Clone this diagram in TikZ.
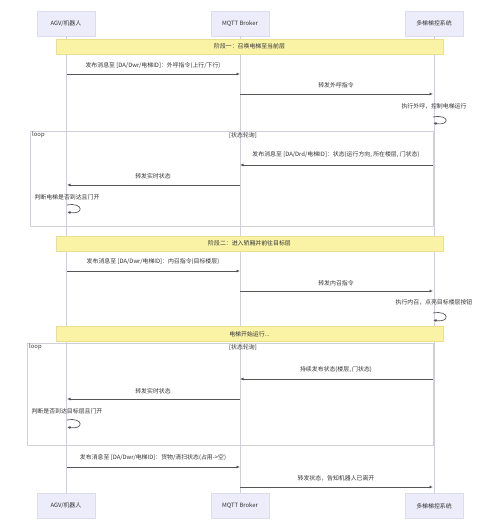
\documentclass[tikz,border=0pt]{standalone}
\usepackage{fontspec}
\setmainfont{Noto Sans CJK SC}
\usetikzlibrary{arrows.meta}
\definecolor{actorfill}{HTML}{ECECFA}
\definecolor{actorline}{HTML}{DCDCEE}
\definecolor{notefill}{HTML}{FAF3A6}
\definecolor{noteline}{HTML}{E8E090}
\definecolor{lifeline}{HTML}{D0D0D8}
\definecolor{msgline}{HTML}{555555}
\definecolor{txt}{HTML}{333333}
\begin{document}
\begin{tikzpicture}[x=1pt,y=-1pt,
  font=\fontsize{5.9}{6.8}\selectfont,
  actor/.style={draw=actorline,fill=actorfill,minimum width=58pt,minimum height=25pt,inner sep=0pt,text=txt},
  phase/.style={draw=noteline,fill=notefill,minimum width=387pt,minimum height=15pt,inner sep=0pt,text=txt},
  lbl/.style={text=txt,inner sep=1pt},
  msg/.style={draw=msgline,line width=0.7pt,-{Latex[length=3.5pt,width=3pt]}},
  life/.style={draw=lifeline,line width=0.6pt},
  frame/.style={draw=lifeline,line width=0.6pt}]
\useasboundingbox (0,0) rectangle (500,531);

\node[actor] (1) at (66,23.5) {AGV/机器人};
\node[actor] (2) at (240,23.5) {MQTT Broker};
\node[actor] (3) at (434,23.5) {多梯梯控系统};
\node[actor] (1b) at (66,506) {AGV/机器人};
\node[actor] (2b) at (240,506) {MQTT Broker};
\node[actor] (3b) at (434,506) {多梯梯控系统};

\path[life] (1) -- (1b);
\path[life] (2) -- (2b);
\path[life] (3) -- (3b);

% loop frames
\path[frame] (30,131) rectangle (433,226);
\node[lbl,anchor=north west] (l1) at (31,131) {loop};
\node[lbl,anchor=north] (g1) at (243,131) {[状态轮询]};
\path[frame] (27,343) rectangle (433,445);
\node[lbl,anchor=north west] (l2) at (28,343) {loop};
\node[lbl,anchor=north] (g2) at (243,343) {[状态轮询]};

% phase notes
\node[phase] (p1) at (249.5,46.5) {阶段一：召唤电梯至当前层};
\node[phase] (p2) at (249.5,243.5) {阶段二：进入轿厢并前往目标层};
\node[phase] (p3) at (249.5,334) {电梯开始运行...};

% message ends
\coordinate (a1) at (67,74);   \coordinate (b1) at (240,74);
\coordinate (b2) at (240,94);  \coordinate (c2) at (433,94);
\coordinate (c3) at (433,117); \coordinate (c3e) at (433,123);
\coordinate (c4) at (433,165); \coordinate (b4) at (240,165);
\coordinate (b5) at (240,185); \coordinate (a5) at (67,185);
\coordinate (a6) at (67,205);  \coordinate (a6e) at (67,212);
\coordinate (a7) at (67,271);  \coordinate (b7) at (240,271);
\coordinate (b8) at (240,291); \coordinate (c8) at (433,291);
\coordinate (c9) at (433,313); \coordinate (c9e) at (433,320);
\coordinate (c10) at (433,379); \coordinate (b10) at (240,379);
\coordinate (b11) at (240,399); \coordinate (a11) at (67,399);
\coordinate (a12) at (67,420); \coordinate (a12e) at (67,427);
\coordinate (a13) at (67,467); \coordinate (b13) at (240,467);
\coordinate (b14) at (240,487); \coordinate (c14) at (433,487);

% labels
\node[lbl] (t1) at (153,66) {发布消息至 [DA/Dwr/电梯ID]：外呼指令(上行/下行)};
\node[lbl] (t2) at (336,85) {转发外呼指令};
\node[lbl] (t3) at (434,106) {执行外呼，控制电梯运行};
\node[lbl] (t4) at (336,155) {发布消息至 [DA/Drd/电梯ID]：状态(运行方向, 所在楼层, 门状态)};
\node[lbl] (t5) at (153,176) {转发实时状态};
\node[lbl] (t6) at (67,197) {判断电梯是否到达且门开};
\node[lbl] (t7) at (153,262) {发布消息至 [DA/Dwr/电梯ID]：内召指令(目标楼层)};
\node[lbl] (t8) at (336,283) {转发内召指令};
\node[lbl] (t9) at (434,302) {执行内召，点亮目标楼层按钮};
\node[lbl] (t10) at (336,370) {持续发布状态(楼层, 门状态)};
\node[lbl] (t11) at (153,391) {转发实时状态};
\node[lbl] (t12) at (67,411) {判断是否到达目标层且门开};
\node[lbl] (t13) at (153,458) {发布消息至 [DA/Dwr/电梯ID]：货物/清扫状态(占用->空)};
\node[lbl] (t14) at (336,478) {转发状态，告知机器人已离开};

% messages
\path[msg] (a1) -- (b1);
\path[msg] (b2) -- (c2);
\path[msg] (c3) .. controls +(17,-3) and +(17,3) .. (c3e);
\path[msg] (c4) -- (b4);
\path[msg] (b5) -- (a5);
\path[msg] (a6) .. controls +(17,-3) and +(17,3) .. (a6e);
\path[msg] (a7) -- (b7);
\path[msg] (b8) -- (c8);
\path[msg] (c9) .. controls +(17,-3) and +(17,3) .. (c9e);
\path[msg] (c10) -- (b10);
\path[msg] (b11) -- (a11);
\path[msg] (a12) .. controls +(17,-3) and +(17,3) .. (a12e);
\path[msg] (a13) -- (b13);
\path[msg] (b14) -- (c14);
\end{tikzpicture}
\end{document}
